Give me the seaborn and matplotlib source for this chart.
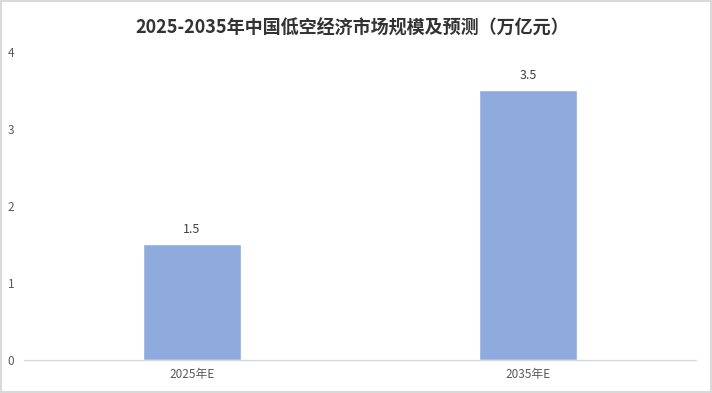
import matplotlib
matplotlib.use("Agg")
import matplotlib.pyplot as plt
import seaborn as sns
import pandas as pd

# data
categories = ["2025年E", "2035年E"]
values = [1.5, 3.5]
title = "2025-2035年中国低空经济市场规模及预测（万亿元）"

sns.set_style("white")
plt.rcParams["font.family"] = ["Noto Sans CJK SC", "DejaVu Sans"]

df = pd.DataFrame({"year": categories, "value": values})

fig = plt.figure(figsize=(7.12, 3.93), dpi=100)
ax = fig.add_axes([0.0337, 0.084, 0.9438, 0.7837])

sns.barplot(data=df, x="year", y="value", color="#8FAADC", saturation=1,
            width=0.29, ax=ax)

ax.set_ylim(0, 4)
ax.set_xlim(-0.5, 1.5)
ax.set_yticks([0, 1, 2, 3, 4])
ax.set_xlabel("")
ax.set_ylabel("")

for i, v in enumerate(values):
    ax.text(i, v + 0.11, f"{v}", ha="center", va="bottom", fontsize=9, color="#404040")

for s in ["top", "right", "left"]:
    ax.spines[s].set_visible(False)
ax.spines["bottom"].set_color("#D9D9D9")
ax.spines["bottom"].set_linewidth(1)
ax.tick_params(axis="both", length=0, labelsize=8.5, colors="#595959")
ax.tick_params(axis="y", pad=7)
ax.tick_params(axis="x", pad=6)

fig.text(0.495, 0.928, title, ha="center", va="center", fontsize=13,
         fontweight="bold", color="#333333")

# light frame round the picture
fig.patches.append(plt.Rectangle((0.001, 0.002), 0.998, 0.996, transform=fig.transFigure,
                                 fill=False, edgecolor="#D9D9D9", linewidth=1.5))

fig.savefig("out.png", dpi=100, facecolor="white")
